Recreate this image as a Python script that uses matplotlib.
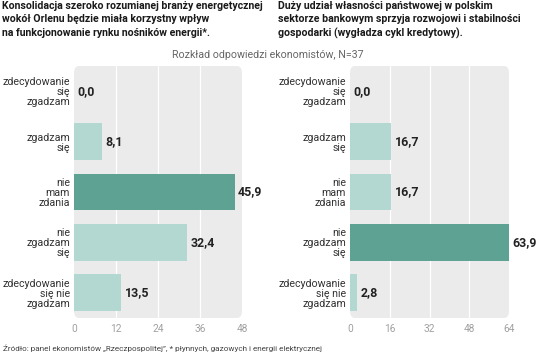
import numpy as np
import matplotlib
matplotlib.use("Agg")
from matplotlib import pyplot as plt
from matplotlib.patches import FancyBboxPatch

plt.rcParams['font.family'] = ['Roboto', 'DejaVu Sans']

# data
categories = ["zdecydowanie\nsię\nzgadzam", "zgadzam\nsię", "nie\nmam\nzdania",
              "nie\nzgadzam\nsię", "zdecydowanie\nsię nie\nzgadzam"]
values_left = [0.0, 8.1, 45.9, 32.4, 13.5]
values_right = [0.0, 16.7, 16.7, 63.9, 2.8]
ticks_left = [0, 12, 24, 36, 48]
ticks_right = [0, 16, 32, 48, 64]

title_left = ("Konsolidacja szeroko rozumianej branży energetycznej\n"
              "wokół Orlenu będzie miała korzystny wpływ\n"
              "na funkcjonowanie rynku nośników energii*.")
title_right = ("Duży udział własności państwowej w polskim\n"
               "sektorze bankowym sprzyja rozwojowi i stabilności\n"
               "gospodarki (wygładza cykl kredytowy).")
subtitle = "Rozkład odpowiedzi ekonomistów, N=37"
footer = "Źródło: panel ekonomistów „Rzeczpospolitej”, * płynnych, gazowych i energii elektrycznej"

LIGHT = "#b3d7d1"
DARK = "#5ea293"
PANEL = "#ebebeb"

W, H = 536, 356
fig = plt.figure(figsize=(W / 100, H / 100), dpi=100)


def px_axes(x0, x1, y0, y1):
    return fig.add_axes([x0 / W, 1 - y1 / H, (x1 - x0) / W, (y1 - y0) / H])


def panel(ax, vals, ticks):
    ax.set_xlim(ticks[0], ticks[-1])
    ax.set_ylim(4.5, -0.5)
    ax.patch.set_visible(False)
    bg = FancyBboxPatch((0, 0), 1, 1, boxstyle="round,pad=0,rounding_size=0.03",
                        transform=ax.transAxes, facecolor=PANEL, edgecolor="none",
                        zorder=0, clip_on=False)
    ax.add_patch(bg)
    for t in ticks[1:-1]:
        ax.axvline(t, color="white", lw=0.9, zorder=1)
    vmax = max(vals)
    colors = [DARK if v == vmax else LIGHT for v in vals]
    y = np.arange(len(vals))
    ax.barh(y, vals, height=0.73, color=colors, zorder=2)
    for yi, v in zip(y, vals):
        ax.annotate(f"{v:.1f}".replace(".", ","), (v, yi), xytext=(2.5, 0),
                    textcoords="offset points", va="center", ha="left",
                    fontsize=8.9, fontweight="bold", color="#222222", zorder=3,
                    annotation_clip=False)
    ax.set_yticks(y)
    ax.set_yticklabels(categories, fontsize=7.7, color="#333333", linespacing=1.0)
    ax.set_xticks(ticks)
    ax.set_xticklabels([str(t) for t in ticks], fontsize=7.3, color="#a0a0a0")
    ax.tick_params(length=0, pad=4)
    ax.tick_params(axis="y", pad=3)
    for s in ax.spines.values():
        s.set_visible(False)


ax1 = px_axes(74, 242, 66, 318)
panel(ax1, values_left, ticks_left)
ax2 = px_axes(350, 509, 66, 318)
panel(ax2, values_right, ticks_right)

fig.text(2 / W, 1 - 1 / H, title_left, ha="left", va="top", fontsize=7.6,
         fontweight="bold", color="#1a1a1a", linespacing=1.42)
fig.text(278 / W, 1 - 1 / H, title_right, ha="left", va="top", fontsize=7.6,
         fontweight="bold", color="#1a1a1a", linespacing=1.42)
fig.text(268 / W, 1 - 55 / H, subtitle, ha="center", va="center", fontsize=7.7,
         color="#666666")
fig.text(3 / W, 1 - 348 / H, footer, ha="left", va="center", fontsize=5.9,
         color="#444444")

fig.savefig("out.png", dpi=100)
